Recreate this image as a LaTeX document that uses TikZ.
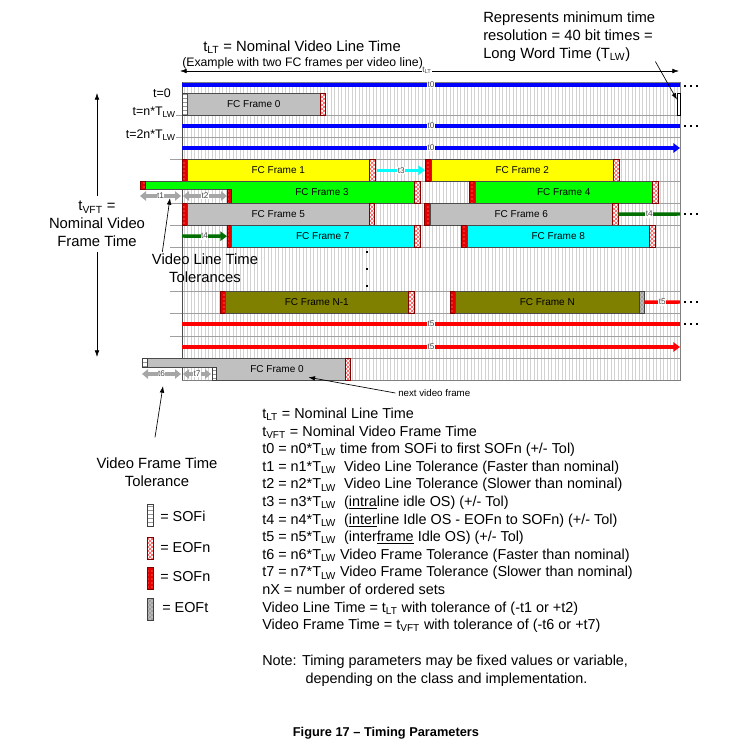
\documentclass[tikz,border=0pt]{standalone}
\usepackage{fontspec}
\setmainfont{Liberation Sans}
\usepackage{tikz}
\usetikzlibrary{arrows.meta}
\usetikzlibrary{patterns}
\usetikzlibrary{calc}

\definecolor{fcyellow}{RGB}{255,255,0}
\definecolor{fcgreen}{RGB}{0,255,0}
\definecolor{fcgray}{RGB}{192,192,192}
\definecolor{fccyan}{RGB}{0,255,255}
\definecolor{fcolive}{RGB}{128,128,0}
\definecolor{fcblue}{RGB}{0,0,255}
\definecolor{fcred}{RGB}{255,0,0}
\definecolor{fcdkgreen}{RGB}{0,110,0}

\begin{document}
\begin{tikzpicture}[x=0.75pt, y=-0.75pt,
        fw/.style={minimum width=#1*0.75pt},
        fh/.style={minimum height=#1*0.75pt},
        grid_line/.style={draw=gray!35, line width=0.25pt},
        row_line/.style={draw=gray!75, line width=0.4pt},
        frame_style/.style={draw=black!70, line width=0.4pt, inner sep=0pt, anchor=north west, minimum height=22*0.75pt, font=\fontsize{7.5}{8}\selectfont},
        marker_style/.style={draw=gray!50!black, line width=0.3pt, inner sep=0pt, anchor=north west, minimum width=5*0.75pt, minimum height=22*0.75pt},
        sofi_style/.style={marker_style, preaction={fill=white}, pattern=horizontal lines, pattern color=gray!80},
        eofn_style/.style={marker_style, draw=red!50!black, preaction={fill=white}, pattern=crosshatch, pattern color=red!70},
        sofn_style/.style={marker_style, draw=red!50!black, preaction={fill=red!90!black}, pattern=dots, pattern color=red!30},
        eoft_style/.style={marker_style, preaction={fill=gray!55}, pattern=crosshatch dots, pattern color=black!70},
        bar_style/.style={line width=2.6pt},
        bar_tip/.style={-{Triangle[length=5pt,width=7pt]}},
        tlabel_style/.style={font=\fontsize{6.2}{6.5}\selectfont, text=gray!55!black, fill=white, inner sep=0.4pt},
        tol_style/.style={draw=gray!70, line width=2.8pt, {Triangle[length=4.5pt,width=7pt]}-{Triangle[length=4.5pt,width=7pt]}},
        ann_style/.style={draw=black, line width=0.5pt, -{Latex[length=5pt,width=3.5pt]}},
        big_text/.style={font=\fontsize{11.1}{13.4}\selectfont, align=center, inner sep=0pt},
        body_text/.style={font=\fontsize{10.8}{13.2}\selectfont, align=left, inner sep=0pt, anchor=north west},
        time_text/.style={font=\fontsize{9.3}{10}\selectfont, anchor=east, inner sep=0pt}]

        \useasboundingbox (0,0) rectangle (745,751);

        % timing grid
        \fill[white] (182,82) rectangle (680,380);
        \foreach \x in {184,187.5,...,679} \draw[grid_line] (\x,82) -- (\x,380);
        \foreach \y in {115,137,159,181,203,225,247,291,313,336,358} \draw[row_line] (182,\y) -- (680,\y);
        \foreach \y in {159,203,225,247,291,313,336} \draw[row_line] (170,\y) -- (182,\y);
        \draw[row_line] (176,115) -- (182,115);
        \draw[row_line] (176,137) -- (182,137);
        \draw[draw=gray, line width=0.6pt] (182,82) rectangle (680,380);
        \draw[draw=black!70, line width=0.6pt] (182,82) -- (182,380);

        \node[time_text] (tzero) at (171,93) {t=0};
        \node[time_text] (tone) at (176,112) {t=n*T\textsubscript{LW}};
        \node[time_text] (ttwo) at (176,135) {t=2n*T\textsubscript{LW}};

        % first line
        \node[sofi_style] (sofi0) at (182,93) {};
        \node[frame_style, fill=fcgray, fw=133] (fr0) at (187,93) {FC Frame 0};
        \node[eofn_style] (eofn0) at (320,93) {};
        \node[draw=black, fill=white, inner sep=0pt, anchor=north west, fw=3, fh=22] (res) at (677,93) {};

        \draw[bar_style, draw=fcblue] (182,85) -- node[tlabel_style]{t0} (680,85);
        \draw[bar_style, draw=fcblue] (182,126) -- node[tlabel_style]{t0} (680,126);
        \draw[bar_style, draw=fcblue, bar_tip] (182,148) -- node[tlabel_style]{t0} (680,148);

        % frames 1 and 2
        \node[sofn_style] (sofn1) at (182,159) {};
        \node[frame_style, fill=fcyellow, fw=182] (fr1) at (187,159) {FC Frame 1};
        \node[eofn_style, fw=6] (eofn1) at (369,159) {};
        \node[sofn_style, fw=6] (sofn2) at (425,159) {};
        \node[frame_style, fill=fcyellow, fw=182] (fr2) at (431,159) {FC Frame 2};
        \node[eofn_style, fw=6] (eofn2) at (613,159) {};
        \draw[bar_style, line width=2.4pt, draw=fccyan, bar_tip] ([xshift=1.5pt]eofn1.east) -- node[tlabel_style]{t3} (sofn2.west);

        % frames 3 and 4
        \draw[draw=black!70, line width=0.4pt, fill=fcgreen] (140,181) -- (414,181) -- (414,203) -- (227,203) -- (227,189) -- (140,189) -- cycle;
        \node[sofn_style, fh=8] (sofn3a) at (140,181) {};
        \node[sofn_style, fw=4, fh=14] (sofn3) at (227,189) {};
        \node[font=\fontsize{7.5}{8}\selectfont] (fr3) at (322,192) {FC Frame 3};
        \node[eofn_style, fw=6] (eofn3) at (414,181) {};
        \node[sofn_style, fw=6] (sofn4) at (469,181) {};
        \node[frame_style, fill=fcgreen, fw=177] (fr4) at (475,181) {FC Frame 4};
        \node[eofn_style, fw=6] (eofn4) at (652,181) {};

        \coordinate (tol1_a) at (140,196);
        \coordinate (tol1_b) at (181,196);
        \coordinate (tol2_a) at (183,196);
        \coordinate (tol2_b) at (227,196);
        \draw[tol_style] (tol1_a) -- node[tlabel_style]{t1} (tol1_b);
        \draw[tol_style] (tol2_a) -- node[tlabel_style]{t2} (tol2_b);

        % frames 5 and 6
        \node[sofn_style] (sofn5) at (182,203) {};
        \node[frame_style, fill=fcgray, fw=182] (fr5) at (187,203) {FC Frame 5};
        \node[eofn_style] (eofn5) at (369,203) {};
        \node[sofn_style, fw=6] (sofn6) at (424,203) {};
        \node[frame_style, fill=fcgray, fw=182] (fr6) at (430,203) {FC Frame 6};
        \node[eofn_style, fw=6] (eofn6) at (612,203) {};
        \coordinate (idle4) at (680,214);
        \draw[bar_style, draw=fcdkgreen] (eofn6.east) -- node[tlabel_style]{t4} (idle4);

        % frames 7 and 8
        \node[sofn_style, fw=4] (sofn7) at (227,225) {};
        \node[frame_style, fill=fccyan, fw=183] (fr7) at (231,225) {FC Frame 7};
        \node[eofn_style, fw=6] (eofn7) at (414,225) {};
        \node[sofn_style, fw=6] (sofn8) at (461,225) {};
        \node[frame_style, fill=fccyan, fw=182] (fr8) at (467,225) {FC Frame 8};
        \node[eofn_style, fw=6] (eofn8) at (649,225) {};
        \coordinate (start4) at (182,236);
        \draw[bar_style, draw=fcdkgreen, bar_tip] (start4) -- node[tlabel_style]{t4} (sofn7.west);

        \foreach \y in {251,268,285} \fill (366,\y) rectangle ++(2,2);

        % frames N-1 and N
        \node[sofn_style] (sofnm) at (220,291) {};
        \node[frame_style, fill=fcolive, fw=183] (frm) at (225,291) {FC Frame N-1};
        \node[eofn_style, fw=6] (eofnm) at (408,291) {};
        \node[sofn_style] (sofnn) at (450,291) {};
        \node[frame_style, fill=fcolive, fw=184] (frn) at (455,291) {FC Frame N};
        \node[eoft_style] (eoftn) at (639,291) {};
        \coordinate (idle5) at (680,302);
        \draw[bar_style, draw=fcred] (eoftn.east) -- node[tlabel_style]{t5} (idle5);

        \draw[bar_style, draw=fcred] (182,324) -- node[tlabel_style]{t5} (680,324);
        \draw[bar_style, draw=fcred, bar_tip] (182,347) -- node[tlabel_style]{t5} (680,347);

        % next video frame
        \draw[draw=black!70, line width=0.4pt, fill=fcgray] (142,358) -- (345,358) -- (345,380) -- (212,380) -- (212,367) -- (142,367) -- cycle;
        \node[sofi_style, fh=9] (sofi9a) at (142,358) {};
        \node[sofi_style, fw=4, fh=13] (sofi9) at (212,367) {};
        \node[eofn_style] (eofn9) at (345,358) {};
        \node[font=\fontsize{7.5}{8}\selectfont] (fr9) at (277,369) {FC Frame 0};

        \coordinate (tol6_a) at (142,374);
        \coordinate (tol6_b) at (181,374);
        \coordinate (tol7_a) at (183,374);
        \coordinate (tol7_b) at (211,374);
        \draw[tol_style] (tol6_a) -- node[tlabel_style]{t6} (tol6_b);
        \draw[tol_style] (tol7_a) -- node[tlabel_style]{t7} (tol7_b);

        \foreach \y in {86,126,214,302,324}
            \foreach \x in {685,691,697} \fill (\x-1.2,\y-1.2) rectangle ++(2.4,2.4);

        % line time
        \node[big_text, anchor=west] (tlt) at (203,47) {t\textsubscript{LT} = Nominal Video Line Time};
        \node[anchor=west, inner sep=0pt, font=\fontsize{9.2}{10}\selectfont] (example) at (182,63) {(Example with two FC frames per video line)};
        \coordinate (lt_left) at (180,71);
        \coordinate (lt_right) at (679,71);
        \draw[ann_style, {Latex[length=5pt,width=3.5pt]}-{Latex[length=5pt,width=3.5pt]}] (lt_left) -- (lt_right);
        \node[tlabel_style] (tltsmall) at (427,70) {t\textsubscript{LT}};

        \node[big_text, align=left, anchor=north west] (resnote) at (483,11.5) {Represents minimum time\\resolution = 40 bit times =\\Long Word Time (T\textsubscript{LW})};
        \draw[ann_style] (resnote.south east) -- ($(res.north west)!0.3!(res.south west)$);

        % frame time
        \node[big_text] (vft) at (97,224) {t\textsubscript{VFT} =\\Nominal Video\\Frame Time};
        \coordinate (vft_top) at (97,93);
        \coordinate (vft_bot) at (97,357);
        \draw[ann_style] ([yshift=4pt]vft.north) -- (vft_top);
        \draw[ann_style] ([yshift=-4pt]vft.south) -- (vft_bot);

        \node[big_text] (vlt) at (205,268) {Video Line Time\\Tolerances};
        \coordinate (vlt_tip) at (170,198);
        \draw[ann_style] ([xshift=-32pt, yshift=1pt]vlt.north) -- (vlt_tip);

        \node[big_text] (vftt) at (157,472) {Video Frame Time\\Tolerance};
        \coordinate (vftt_tip) at (163,386);
        \draw[ann_style] ([xshift=-1.5pt, yshift=15pt]vftt.north) -- (vftt_tip);

        \node[anchor=west, inner sep=0pt, font=\fontsize{7.3}{8}\selectfont] (nvf) at (398,393) {next video frame};
        \draw[ann_style] ([xshift=-2pt]nvf.west) -- (fr9.south east);

        % legend
        \node[sofi_style, fw=6] (lg_sofi) at (147,504) {};
        \node[anchor=west, inner sep=0pt, font=\fontsize{10.8}{13}\selectfont] (lg_sofi_t) at (160,516) {= SOFi};
        \node[eofn_style, fw=6] (lg_eofn) at (147,537) {};
        \node[anchor=west, inner sep=0pt, font=\fontsize{10.8}{13}\selectfont] (lg_eofn_t) at (160,548) {= EOFn};
        \node[sofn_style, fw=6] (lg_sofn) at (147,567) {};
        \node[anchor=west, inner sep=0pt, font=\fontsize{10.8}{13}\selectfont] (lg_sofn_t) at (160,577) {= SOFn};
        \node[eoft_style, fw=6] (lg_eoft) at (147,598) {};
        \node[anchor=west, inner sep=0pt, font=\fontsize{10.8}{13}\selectfont] (lg_eoft_t) at (162,608) {= EOFt};

        % definitions
        \node[body_text] (defs) at (262,407.8) {t\textsubscript{LT} = Nominal Line Time\\
            t\textsubscript{VFT} = Nominal Video Frame Time\\
            t0 = n0*T\textsubscript{LW} time from SOFi to first SOFn (+/- Tol)\\
            t1 = n1*T\textsubscript{LW}\ \ Video Line Tolerance (Faster than nominal)\\
            t2 = n2*T\textsubscript{LW}\ \ Video Line Tolerance (Slower than nominal)\\
            t3 = n3*T\textsubscript{LW}\ \ (\underline{intra}line idle OS) (+/- Tol)\\
            t4 = n4*T\textsubscript{LW}\ \ (\underline{inter}line Idle OS - EOFn to SOFn) (+/- Tol)\\
            t5 = n5*T\textsubscript{LW}\ \ (inter\underline{frame} Idle OS) (+/- Tol)\\
            t6 = n6*T\textsubscript{LW} Video Frame Tolerance (Faster than nominal)\\
            t7 = n7*T\textsubscript{LW} Video Frame Tolerance (Slower than nominal)\\
            nX = number of ordered sets\\
            Video Line Time = t\textsubscript{LT} with tolerance of (-t1 or +t2)\\
            Video Frame Time = t\textsubscript{VFT} with tolerance of (-t6 or +t7)};

        \node[body_text] (note) at (262,655) {Note: Timing parameters may be fixed values or variable,\\
            \hspace*{32.5pt}depending on the class and implementation.};

        \node[font=\bfseries\fontsize{9.6}{11}\selectfont] (caption) at (386,733) {Figure 17 -- Timing Parameters};

\end{tikzpicture}
\end{document}
